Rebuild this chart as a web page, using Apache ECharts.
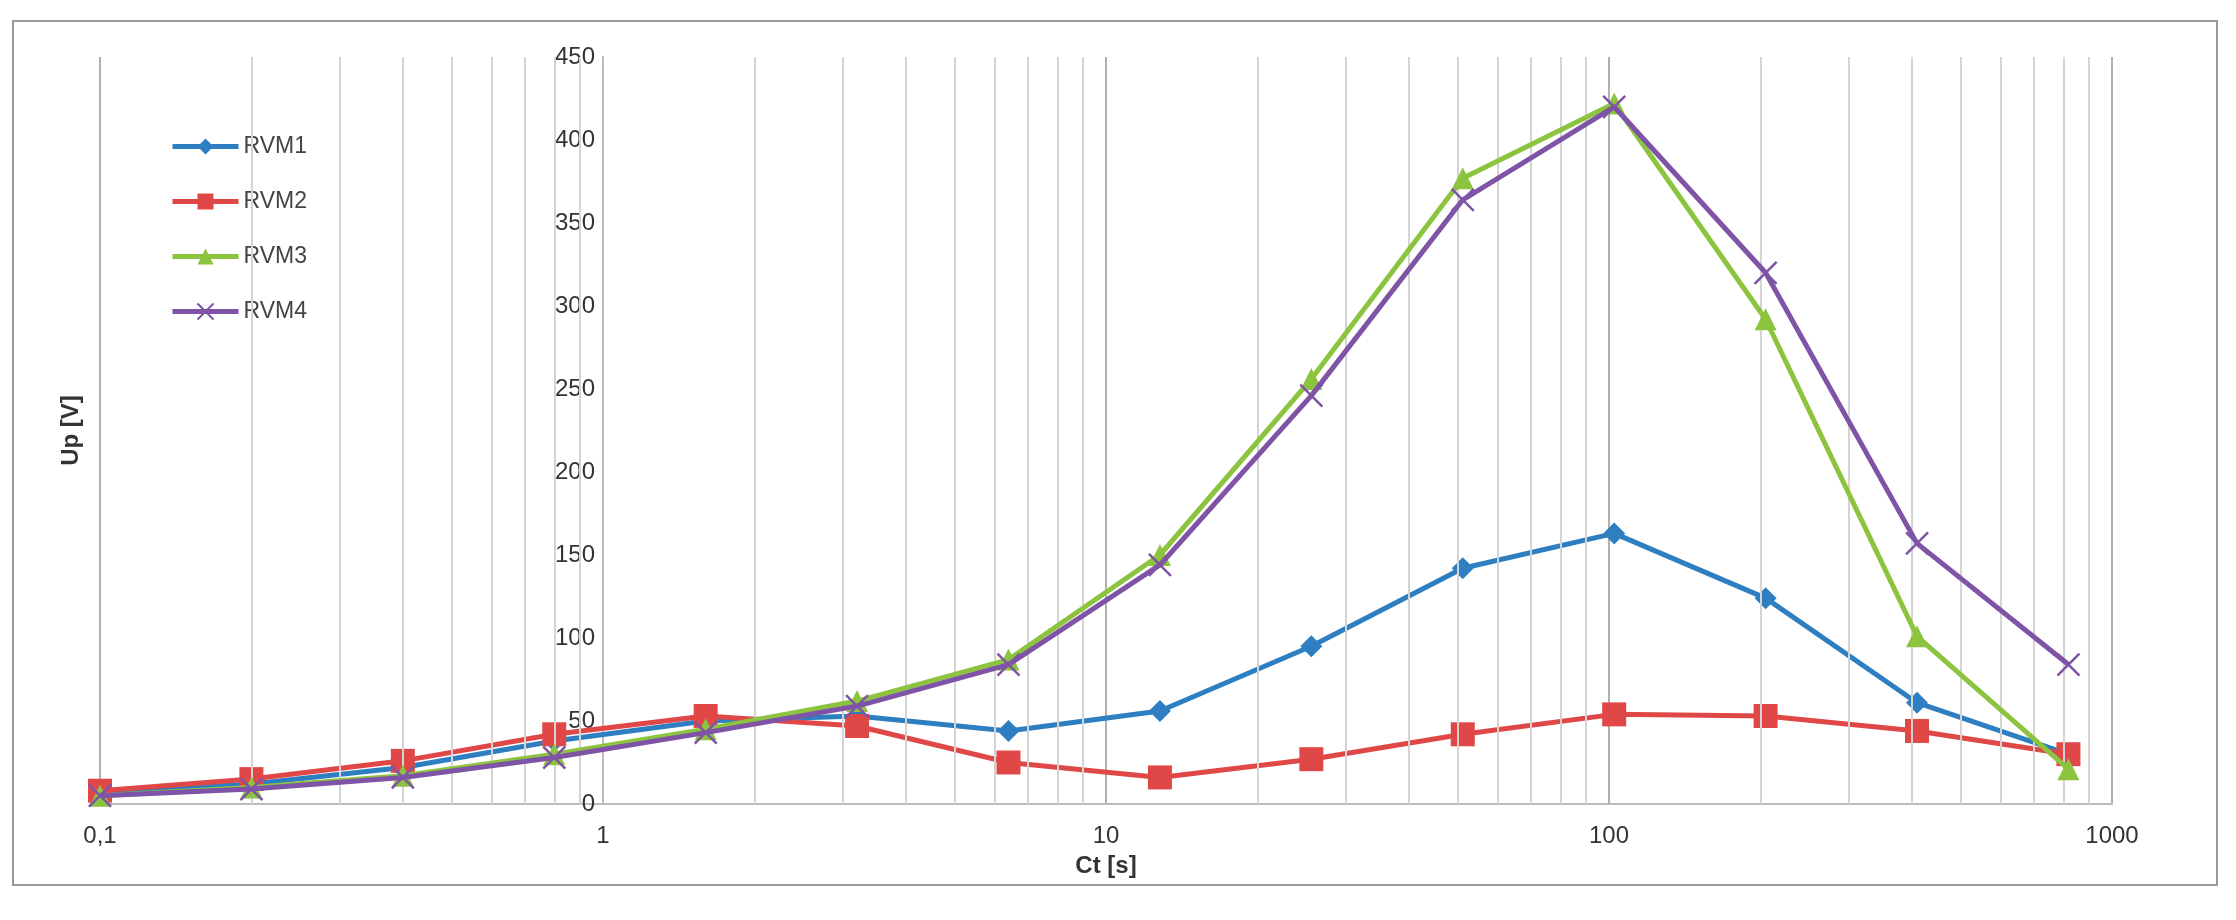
<!DOCTYPE html><html><head><meta charset="utf-8"><script src="https://cdn.jsdelivr.net/npm/echarts@6/dist/echarts.min.js"></script>
<style>html,body{margin:0;background:#fff}#c{width:2236px;height:920px}</style></head><body>
<div id="frame" style="position:absolute;left:12px;top:20px;width:2206px;height:866px;border:2px solid #999;box-sizing:border-box"></div>
<div id="c" style="position:absolute;left:0;top:0"></div>
<script>
const ct=[0.1,0.2,0.4,0.8,1.6,3.2,6.4,12.8,25.6,51.2,102.4,204.8,409.6,819.2];
const rvm1=[7,12,22,38,50,53,44,56,95,142,163,124,61,30];
const rvm2=[8,15,26,42,53,47,25,16,27,42,54,53,44,30];
const rvm3=[5,10,17,30,45,62,87,150,256,377,422,292,101,21];
const rvm4=[5,9,16,28,43,59,84,144,246,364,420,320,157,84];
const names=['RVM1','RVM2','RVM3','RVM4'];
const colors=['#2e7fc1','#e04848','#8cc43f','#7f53a5'];
const symbols=['diamond','rect','triangle','path://M0,0L10,10M10,0L0,10'];
const minorX=[];for(const d of [0.1,1,10,100])for(let k=2;k<=9;k++)minorX.push(+(d*k).toPrecision(3));
const font='"Liberation Sans", Arial, sans-serif';
const chart=echarts.init(document.getElementById('c'));
const series=[rvm1,rvm2,rvm3,rvm4].map((v,i)=>({name:names[i],type:'line',data:ct.map((x,j)=>[x,v[j]]),
 symbol:symbols[i],symbolSize:i===1?24:(i===3?22:22),lineStyle:{width:5,color:colors[i]},
 itemStyle:{color:colors[i],borderColor:colors[i],borderWidth:i===3?2.5:0},z:3+i}));
series.push({type:'line',data:[],silent:true,markLine:{symbol:'none',silent:true,label:{show:false},
 lineStyle:{color:'#d4d4d4',width:2,type:'solid'},data:minorX.map(x=>({xAxis:x}))}});
chart.setOption({animation:false,
 grid:{left:100,right:124,top:57,bottom:116},
 legend:{orient:'vertical',left:165,top:130,itemGap:32,itemWidth:66,itemHeight:20,
  lineStyle:{width:5},
  textStyle:{fontFamily:font,fontSize:23,color:'#444'},data:names},
 xAxis:{type:'log',min:0.1,max:1000,logBase:10,name:'Ct [s]',nameLocation:'middle',nameGap:50,
  nameTextStyle:{fontFamily:font,fontSize:24,fontWeight:'bold',color:'#333'},
  axisLine:{lineStyle:{color:'#bbb',width:2}},axisTick:{show:false},
  axisLabel:{fontFamily:font,fontSize:24,color:'#333',margin:20,formatter:v=>String(v).replace('.',',')},
  splitLine:{show:true,lineStyle:{color:'#b0b0b0',width:2}}},
 yAxis:{type:'value',min:0,max:450,interval:50,name:'Up [V]',nameLocation:'middle',nameGap:520,nameRotate:90,
  offset:-503,
  nameTextStyle:{fontFamily:font,fontSize:24,fontWeight:'bold',color:'#333'},
  axisLine:{show:true,lineStyle:{color:'#bbb',width:2}},axisTick:{show:false},
  axisLabel:{fontFamily:font,fontSize:24,color:'#333',margin:8},splitLine:{show:false}},
 series});
</script></body></html>
